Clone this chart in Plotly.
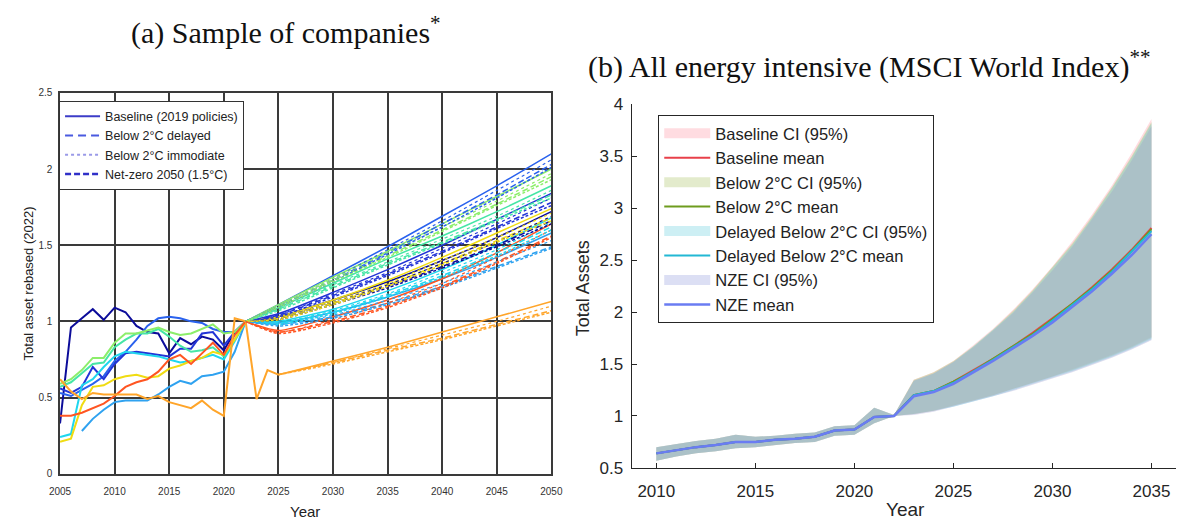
import plotly.graph_objects as go

# ---------------- Panel (a): sample of companies ----------------
hist_years = list(range(2005, 2026))
proj_years = [2022, 2025, 2030, 2035, 2040, 2045, 2050]

company_colors = ["#0c0c9a", "#2a62ee", "#2234d6", "#1fd6ee", "#2fa2f0",
                  "#46e6a6", "#8cee6a", "#f0dc12", "#ff5522", "#ffa52a"]

# total assets rebased to 2022, observed history (2005-2025 where available)
history = [
    [0.33, 0.96, 1.02, 1.08, 1.01, 1.09, 1.06, 0.97, 0.93, 0.92, 0.79, 0.89, 0.85, 0.90, 0.88, 0.81, 0.93, 1.00, None, None, None],
    [0.53, 0.51, 0.55, 0.59, 0.64, 0.74, 0.80, 0.88, 0.97, 1.02, 1.03, 1.02, 1.00, 0.99, 0.95, 0.93, 0.93, 1.00, None, None, None],
    [0.56, 0.53, 0.57, 0.70, 0.62, 0.72, 0.79, 0.80, 0.79, 0.78, 0.77, 0.82, 0.82, 0.92, 0.93, 0.84, 0.93, 1.00, None, None, None],
    [0.24, 0.26, 0.58, 0.62, 0.70, 0.77, 0.80, 0.79, 0.78, 0.77, 0.75, 0.73, 0.74, 0.76, 0.78, 0.75, 0.87, 1.00, None, None, None],
    [None, None, 0.28, 0.36, 0.42, 0.47, 0.48, 0.48, 0.48, 0.52, 0.57, 0.61, 0.59, 0.64, 0.65, 0.67, 0.80, 1.00, None, None, None],
    [0.57, 0.60, 0.66, 0.72, 0.73, 0.83, 0.88, 0.92, 0.92, 0.95, 0.90, 0.84, 0.80, 0.81, 0.83, 0.77, 0.88, 1.00, None, None, None],
    [0.59, 0.62, 0.68, 0.76, 0.76, 0.86, 0.92, 0.92, 0.94, 0.96, 0.93, 0.91, 0.92, 0.95, 0.98, 0.92, 0.93, 1.00, None, None, None],
    [0.21, 0.23, 0.45, 0.57, 0.58, 0.62, 0.64, 0.65, 0.63, 0.64, 0.69, 0.71, 0.74, 0.76, 0.80, 0.78, 0.88, 1.00, None, None, None],
    [0.38, 0.38, 0.40, 0.43, 0.46, 0.51, 0.57, 0.60, 0.62, 0.67, 0.75, 0.78, 0.72, 0.79, 0.86, 0.78, 0.91, 1.00, None, None, None],
    [0.62, 0.54, 0.49, 0.53, 0.52, 0.52, 0.52, 0.52, 0.49, 0.51, 0.47, 0.45, 0.43, 0.48, 0.42, 0.38, 1.02, 1.00, 0.49, 0.68, 0.65],
]

# projections by scenario at proj_years
baseline = [
    [1.0, 1.03, 1.14, 1.26, 1.40, 1.55, 1.72],
    [1.0, 1.11, 1.30, 1.49, 1.69, 1.89, 2.10],
    [1.0, 1.05, 1.19, 1.34, 1.50, 1.67, 1.84],
    [1.0, 1.00, 1.08, 1.20, 1.34, 1.50, 1.68],
    [1.0, 0.99, 1.06, 1.16, 1.28, 1.42, 1.58],
    [1.0, 1.09, 1.25, 1.41, 1.56, 1.72, 1.89],
    [1.0, 1.11, 1.29, 1.46, 1.64, 1.82, 2.00],
    [1.0, 1.03, 1.14, 1.27, 1.42, 1.58, 1.74],
    [1.0, 0.94, 1.03, 1.14, 1.28, 1.45, 1.64],
    [None, 0.65, 0.74, 0.83, 0.93, 1.03, 1.13],
]
delayed = [
    [1.0, 1.02, 1.12, 1.23, 1.36, 1.50, 1.66],
    [1.0, 1.10, 1.27, 1.45, 1.64, 1.83, 2.03],
    [1.0, 1.04, 1.17, 1.31, 1.46, 1.62, 1.78],
    [1.0, 0.99, 1.06, 1.17, 1.30, 1.45, 1.62],
    [1.0, 0.98, 1.03, 1.12, 1.23, 1.36, 1.49],
    [1.0, 1.08, 1.23, 1.38, 1.52, 1.67, 1.83],
    [1.0, 1.10, 1.27, 1.43, 1.60, 1.77, 1.95],
    [1.0, 1.02, 1.12, 1.24, 1.38, 1.53, 1.68],
    [1.0, 0.93, 1.00, 1.10, 1.23, 1.39, 1.56],
    [None, 0.65, 0.73, 0.81, 0.89, 0.98, 1.07],
]
immediate = [
    [1.0, 1.02, 1.13, 1.24, 1.38, 1.52, 1.69],
    [1.0, 1.10, 1.28, 1.47, 1.66, 1.86, 2.06],
    [1.0, 1.04, 1.18, 1.32, 1.48, 1.64, 1.81],
    [1.0, 0.99, 1.07, 1.18, 1.32, 1.47, 1.65],
    [1.0, 0.98, 1.04, 1.14, 1.25, 1.39, 1.53],
    [1.0, 1.08, 1.24, 1.39, 1.54, 1.69, 1.86],
    [1.0, 1.10, 1.28, 1.45, 1.62, 1.79, 1.97],
    [1.0, 1.02, 1.13, 1.25, 1.40, 1.55, 1.71],
    [1.0, 0.93, 1.01, 1.12, 1.25, 1.42, 1.60],
    [None, 0.65, 0.73, 0.82, 0.91, 1.00, 1.10],
]
netzero = [
    [1.0, 1.01, 1.11, 1.22, 1.35, 1.49, 1.64],
    [1.0, 1.09, 1.26, 1.44, 1.62, 1.81, 2.01],
    [1.0, 1.03, 1.16, 1.30, 1.45, 1.61, 1.76],
    [1.0, 0.98, 1.05, 1.16, 1.29, 1.43, 1.60],
    [1.0, 0.97, 1.02, 1.11, 1.22, 1.35, 1.48],
    [1.0, 1.07, 1.22, 1.37, 1.51, 1.66, 1.81],
    [1.0, 1.09, 1.26, 1.42, 1.59, 1.76, 1.93],
    [1.0, 1.01, 1.11, 1.23, 1.37, 1.52, 1.66],
    [1.0, 0.92, 0.99, 1.09, 1.22, 1.38, 1.55],
    [None, 0.65, 0.72, 0.80, 0.88, 0.97, 1.06],
]

legend_a_names = ["Baseline (2019 policies)", "Below 2°C delayed",
                  "Below 2°C immodiate", "Net-zero 2050 (1.5°C)"]

# ---------------- Panel (b): MSCI World energy intensive ----------------
years_b = list(range(2010, 2036))
base_mean = [0.64, 0.67, 0.70, 0.72, 0.75, 0.75, 0.77, 0.78, 0.80, 0.86, 0.87, 0.99, 1.00,
             1.20, 1.24, 1.33, 1.44, 1.55, 1.67, 1.80, 1.94, 2.08, 2.24, 2.41, 2.60, 2.81]
b2_mean = [0.64, 0.67, 0.70, 0.72, 0.75, 0.75, 0.77, 0.78, 0.80, 0.86, 0.87, 0.99, 1.00,
           1.20, 1.24, 1.33, 1.43, 1.55, 1.67, 1.79, 1.93, 2.08, 2.23, 2.40, 2.59, 2.80]
delayed_mean = [0.64, 0.67, 0.70, 0.72, 0.75, 0.75, 0.77, 0.78, 0.80, 0.86, 0.87, 0.99, 1.00,
                1.20, 1.24, 1.32, 1.43, 1.54, 1.66, 1.78, 1.92, 2.07, 2.22, 2.39, 2.58, 2.78]
nze_mean = [0.64, 0.67, 0.70, 0.72, 0.75, 0.75, 0.77, 0.78, 0.80, 0.86, 0.87, 0.99, 1.00,
            1.19, 1.23, 1.31, 1.42, 1.53, 1.65, 1.77, 1.90, 2.05, 2.20, 2.37, 2.55, 2.75]

base_hi = [0.70, 0.73, 0.76, 0.78, 0.82, 0.80, 0.81, 0.83, 0.84, 0.90, 0.91, 1.08, 1.01,
           1.35, 1.42, 1.53, 1.68, 1.84, 2.02, 2.22, 2.44, 2.68, 2.94, 3.22, 3.53, 3.86]
base_lo = [0.57, 0.61, 0.64, 0.66, 0.69, 0.70, 0.72, 0.74, 0.75, 0.81, 0.82, 0.93, 1.00,
           1.02, 1.05, 1.10, 1.15, 1.20, 1.26, 1.32, 1.38, 1.45, 1.52, 1.59, 1.67, 1.76]
b2_hi = [0.70, 0.73, 0.76, 0.78, 0.82, 0.80, 0.81, 0.83, 0.84, 0.90, 0.91, 1.08, 1.01,
         1.35, 1.42, 1.53, 1.67, 1.83, 2.01, 2.21, 2.43, 2.66, 2.92, 3.20, 3.50, 3.83]
b2_lo = [0.57, 0.61, 0.64, 0.66, 0.69, 0.70, 0.72, 0.74, 0.75, 0.81, 0.82, 0.93, 1.00,
         1.02, 1.05, 1.10, 1.15, 1.20, 1.26, 1.32, 1.38, 1.44, 1.51, 1.58, 1.66, 1.75]
delayed_hi = [0.70, 0.73, 0.76, 0.78, 0.82, 0.80, 0.81, 0.83, 0.84, 0.90, 0.91, 1.08, 1.01,
              1.34, 1.41, 1.52, 1.67, 1.83, 2.00, 2.20, 2.42, 2.65, 2.91, 3.19, 3.49, 3.82]
delayed_lo = [0.57, 0.61, 0.64, 0.66, 0.69, 0.70, 0.72, 0.74, 0.75, 0.81, 0.82, 0.93, 1.00,
              1.02, 1.05, 1.09, 1.14, 1.19, 1.25, 1.31, 1.37, 1.43, 1.50, 1.57, 1.65, 1.74]
nze_hi = [0.70, 0.73, 0.76, 0.78, 0.82, 0.80, 0.81, 0.83, 0.84, 0.90, 0.91, 1.08, 1.01,
          1.34, 1.41, 1.52, 1.66, 1.82, 1.99, 2.19, 2.40, 2.63, 2.89, 3.16, 3.46, 3.79]
nze_lo = [0.57, 0.61, 0.64, 0.66, 0.69, 0.70, 0.72, 0.74, 0.75, 0.81, 0.82, 0.93, 1.00,
          1.01, 1.04, 1.09, 1.14, 1.19, 1.24, 1.30, 1.36, 1.42, 1.49, 1.56, 1.64, 1.73]

scenario_names_b = ["Baseline", "Below 2°C", "Delayed Below 2°C", "NZE"]
band_fill = ["rgba(255,155,169,0.35)", "rgba(169,198,98,0.35)",
             "rgba(98,212,226,0.35)", "rgba(155,157,205,0.35)"]
band_key = ["#ffdce1", "#e3ebcc", "#cdeff4", "#dcdff4"]
mean_color = ["#e8404a", "#6e9c1e", "#22b8d4", "#6a7cf2"]

FONT = "Liberation Sans, Arial, sans-serif"
fig = go.Figure()

# panel (a) history lines
for col, h in zip(company_colors, history):
    fig.add_trace(go.Scatter(x=hist_years, y=h, mode="lines", line=dict(color=col, width=2),
                             showlegend=False, hoverinfo="skip", xaxis="x", yaxis="y"))

# panel (a) projection lines
styles = [(baseline, "solid", 1.5), (delayed, "6px,3px", 1.5),
          (immediate, "dot", 1.2), (netzero, "3px,2px", 1.5)]
for scen, dash, w in styles:
    for col, p in zip(company_colors, scen):
        fig.add_trace(go.Scatter(x=proj_years, y=p, mode="lines",
                                 line=dict(color=col, width=w, dash=dash, shape="spline", smoothing=0.6),
                                 showlegend=False, hoverinfo="skip", xaxis="x", yaxis="y"))

# panel (a) legend entries
legend_a_styles = [("#3c3cc8", "solid", 2), ("#4a5ae0", "8px,5px", 2),
                   ("#9a9ae8", "dot", 2), ("#3030c8", "6px,3px", 2.5)]
for name, (col, dash, w) in zip(legend_a_names, legend_a_styles):
    fig.add_trace(go.Scatter(x=[None], y=[None], mode="lines", name=name,
                             line=dict(color=col, dash=dash, width=w),
                             legend="legend", xaxis="x", yaxis="y"))

# panel (b) confidence bands (legend keys drawn as wide patches)
his = [base_hi, b2_hi, delayed_hi, nze_hi]
los = [base_lo, b2_lo, delayed_lo, nze_lo]
for i, (hi, lo) in enumerate(zip(his, los)):
    fig.add_trace(go.Scatter(x=years_b + years_b[::-1], y=hi + lo[::-1], mode="lines",
                             fill="toself", fillcolor=band_fill[i], line=dict(width=0),
                             showlegend=False, legendgroup=f"ci{i}",
                             hoverinfo="skip", xaxis="x2", yaxis="y2"))
    fig.add_trace(go.Scatter(x=[None], y=[None], mode="lines",
                             line=dict(color=band_key[i], width=15),
                             name=f"{scenario_names_b[i]} CI (95%)", legend="legend2",
                             legendgroup=f"ci{i}", legendrank=2 * i + 1,
                             xaxis="x2", yaxis="y2"))

# panel (b) mean lines
means = [base_mean, b2_mean, delayed_mean, nze_mean]
for i, m in enumerate(means):
    fig.add_trace(go.Scatter(x=years_b, y=m, mode="lines",
                             line=dict(color=mean_color[i], width=2.5 if i == 3 else 2),
                             name=f"{scenario_names_b[i]} mean", legend="legend2",
                             legendrank=2 * i + 2, xaxis="x2", yaxis="y2"))

W, H = 1190, 529

def px(x):
    return x / W

def py(y):
    return 1 - y / H

grid_col = "#3a3a3a"
fig.update_layout(
    width=W, height=H, margin=dict(l=0, r=0, t=0, b=0),
    paper_bgcolor="white", plot_bgcolor="white",
    font=dict(family=FONT, color="#262626"),
    xaxis=dict(domain=[px(50), px(551)], range=[2005, 2050], tickvals=list(range(2005, 2051, 5)),
               showgrid=True, gridcolor=grid_col, gridwidth=1.5, zeroline=False,
               showline=True, mirror=True, linecolor=grid_col, linewidth=1.5,
               ticks="", tickfont=dict(size=10, color="#333"), ticklabelstandoff=8),
    yaxis=dict(domain=[py(482), py(87)], range=[0, 2.5], tickvals=[0, 0.5, 1, 1.5, 2, 2.5],
               ticktext=["0", "0.5", "1", "1.5", "2", "2.5"],
               showgrid=True, gridcolor=grid_col, gridwidth=1.5, zeroline=False,
               showline=True, mirror=True, linecolor=grid_col, linewidth=1.5,
               ticks="", tickfont=dict(size=10, color="#333"), ticklabelstandoff=4),
    xaxis2=dict(domain=[px(633), px(1188)], range=[2008.76, 2036.24], anchor="y2",
                tickvals=list(range(2010, 2036, 5)), showgrid=False, zeroline=False,
                showline=True, linecolor="#262626", linewidth=1.3,
                ticks="inside", ticklen=5, tickcolor="#262626",
                tickfont=dict(size=17, color="#262626"), ticklabelstandoff=8),
    yaxis2=dict(domain=[py(476), py(99)], range=[0.5, 4], anchor="x2",
                tickvals=[0.5, 1, 1.5, 2, 2.5, 3, 3.5, 4],
                ticktext=["0.5", "1", "1.5", "2", "2.5", "3", "3.5", "4"],
                showgrid=False, zeroline=False, showline=True, linecolor="#262626", linewidth=1.3,
                ticks="inside", ticklen=5, tickcolor="#262626",
                tickfont=dict(size=17, color="#262626"), ticklabelstandoff=4),
    legend=dict(x=px(49), y=py(95), xanchor="left", yanchor="top",
                bgcolor="white", bordercolor="#333", borderwidth=1,
                font=dict(size=12.5, color="#222", family=FONT), itemwidth=35,
                tracegroupgap=0),
    legend2=dict(x=px(660), y=py(110), xanchor="left", yanchor="top",
                 bgcolor="white", bordercolor="#262626", borderwidth=1,
                 font=dict(size=16.5, color="#222", family=FONT), itemwidth=46,
                 traceorder="normal", tracegroupgap=0),
    showlegend=True,
)

ann = [
    dict(text="(a) Sample of companies<sup>*</sup>", x=px(280), y=py(22),
         font=dict(family="Liberation Serif, Times New Roman, serif", size=30, color="#111")),
    dict(text="(b) All energy intensive (MSCI World Index)<sup>**</sup>", x=px(875), y=py(58),
         font=dict(family="Liberation Serif, Times New Roman, serif", size=30, color="#111")),
    dict(text="Total asset rebased (2022)", x=px(18), y=py(285), textangle=-90,
         font=dict(size=13, color="#222")),
    dict(text="Year", x=px(300), y=py(521), font=dict(size=15, color="#222")),
    dict(text="Total Assets", x=px(583), y=py(290), textangle=-90,
         font=dict(size=18, color="#262626")),
    dict(text="Year", x=px(912), y=py(519), font=dict(size=19, color="#262626")),
]
for a in ann:
    fig.add_annotation(xref="paper", yref="paper", showarrow=False,
                       xanchor="center", yanchor="middle", **a)

fig.write_html("out.html")
